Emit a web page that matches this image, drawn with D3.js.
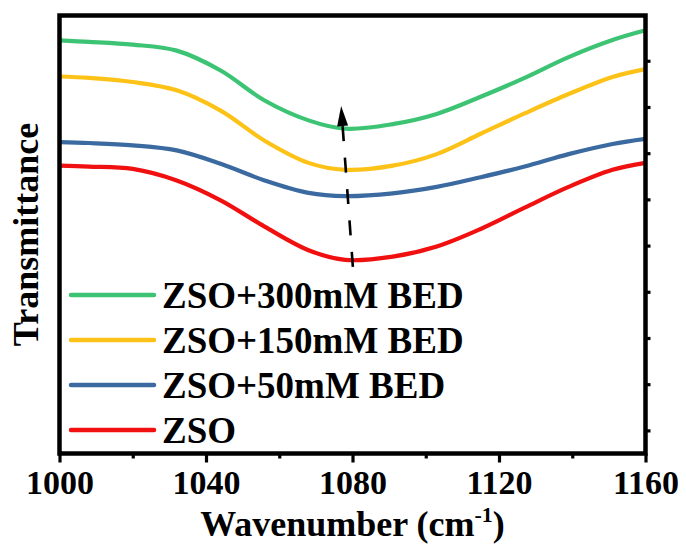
<!DOCTYPE html>
<html>
<head>
<meta charset="utf-8">
<script src="https://cdn.jsdelivr.net/npm/d3@7"></script>
<style>
  html, body { margin: 0; padding: 0; background: #fff; }
  svg { display: block; }
</style>
</head>
<body>
<svg id="chart" width="686" height="551"></svg>
<script>
// ---- data ----
const wavenumbers = [1000, 1008, 1020, 1032, 1044, 1056, 1068, 1078, 1091, 1103, 1115, 1127, 1139, 1151, 1160];
const zso300 = [8.44, 8.41, 8.35, 8.22, 7.79, 7.14, 6.71, 6.53, 6.63, 6.85, 7.22, 7.63, 8.08, 8.45, 8.66];
const zso150 = [7.66, 7.63, 7.54, 7.36, 6.92, 6.27, 5.79, 5.64, 5.73, 5.98, 6.42, 6.86, 7.28, 7.65, 7.82];
const zso50  = [6.24, 6.22, 6.17, 6.06, 5.77, 5.41, 5.14, 5.07, 5.13, 5.27, 5.48, 5.71, 5.98, 6.20, 6.31];
const zso    = [5.73, 5.71, 5.66, 5.41, 4.98, 4.41, 3.90, 3.69, 3.76, 3.98, 4.36, 4.82, 5.27, 5.64, 5.79];
const seriesNames = ["ZSO+300mM BED", "ZSO+150mM BED", "ZSO+50mM BED", "ZSO"];
const seriesColors = ["#3cc373", "#fdc218", "#3a6aa0", "#f01010"];
const xTicks = [1000, 1040, 1080, 1120, 1160];
const xMinorTicks = [1020, 1060, 1100, 1140];
const yTicks = [0, 1, 2, 3, 4, 5, 6, 7, 8];
// shift-arrow endpoints [wavenumber, value]
const arrowStart = [1080.1, 3.54];
const arrowEnd = [1076.9, 7.02];

const seriesValues = [zso300, zso150, zso50, zso];
const FONT = "Liberation Serif";

// ---- layout ----
const svg = d3.select("#chart");
const pL = 59.5, pR = 645.5, pT = 15.5, pB = 453.5;

const x = d3.scaleLinear().domain([1000, 1160]).range([pL, pR]);
const y = d3.scaleLinear().domain([-0.5, 8.98]).range([pB, pT]);

// clip
svg.append("clipPath").attr("id", "clip")
  .append("rect").attr("x", pL).attr("y", pT).attr("width", pR - pL).attr("height", pB - pT);

// curves
const line = d3.line().x(d => x(d[0])).y(d => y(d[1])).curve(d3.curveCatmullRom.alpha(0.5));
const gLines = svg.append("g").attr("clip-path", "url(#clip)");
seriesValues.forEach((vals, i) => {
  gLines.append("path")
    .datum(wavenumbers.map((w, j) => [w, vals[j]]))
    .attr("d", line)
    .attr("fill", "none")
    .attr("stroke", seriesColors[i])
    .attr("stroke-width", 4.2);
});

// arrow
const ax0 = x(arrowStart[0]), ay0 = y(arrowStart[1]);
const ax1 = x(arrowEnd[0]), ay1 = y(arrowEnd[1]);
const len = Math.hypot(ax1 - ax0, ay1 - ay0);
const ux = (ax1 - ax0) / len, uy = (ay1 - ay0) / len;
const headLen = 20, headW = 5.5;
const bx = ax1 - ux * headLen, by = ay1 - uy * headLen;
svg.append("line")
  .attr("x1", ax0).attr("y1", ay0).attr("x2", bx + ux * 2).attr("y2", by + uy * 2)
  .attr("stroke", "#000").attr("stroke-width", 2.6)
  .attr("stroke-dasharray", "15,16.5");
svg.append("path")
  .attr("d", `M${ax1},${ay1} L${bx - uy * headW},${by + ux * headW} L${bx + uy * headW},${by - ux * headW} Z`)
  .attr("fill", "#000");

// frame
svg.append("rect")
  .attr("x", pL).attr("y", pT).attr("width", pR - pL).attr("height", pB - pT)
  .attr("fill", "none").attr("stroke", "#000").attr("stroke-width", 4.5);

// bottom axis
const gx = svg.append("g").attr("transform", `translate(0,${pB})`)
  .call(d3.axisBottom(x).tickValues(xTicks).tickSize(9).tickSizeOuter(0).tickPadding(10).tickFormat(d3.format("d")));
gx.attr("font-family", FONT).attr("font-size", 34).attr("font-weight", "bold");
gx.select(".domain").remove();
gx.selectAll(".tick line").attr("stroke", "#000").attr("stroke-width", 3.2);
gx.selectAll(".tick text").attr("fill", "#000").attr("dy", "0.64em");

const gxm = svg.append("g").attr("transform", `translate(0,${pB})`)
  .call(d3.axisBottom(x).tickValues(xMinorTicks).tickSize(5).tickSizeOuter(0).tickFormat(""));
gxm.select(".domain").remove();
gxm.selectAll(".tick line").attr("stroke", "#000").attr("stroke-width", 3.2);

// right axis (ticks only)
const gy = svg.append("g").attr("transform", `translate(${pR},0)`)
  .call(d3.axisRight(y).tickValues(yTicks).tickSize(5).tickSizeOuter(0).tickFormat(""));
gy.select(".domain").remove();
gy.selectAll(".tick line").attr("stroke", "#000").attr("stroke-width", 3.2);

// axis titles
const xt = svg.append("text")
  .attr("x", (pL + pR) / 2).attr("y", 536)
  .attr("text-anchor", "middle")
  .attr("font-family", FONT).attr("font-weight", "bold").attr("font-size", 36);
xt.append("tspan").text("Wavenumber (cm");
xt.append("tspan").text("-1").attr("font-size", 22).attr("dy", -14);
xt.append("tspan").text(")").attr("dy", 14);

svg.append("text")
  .attr("transform", `translate(38,${(pT + pB) / 2}) rotate(-90)`)
  .attr("text-anchor", "middle")
  .attr("font-family", FONT).attr("font-weight", "bold").attr("font-size", 36)
  .text("Transmittance");

// legend
const legendY0 = 295, legendStep = 45;
seriesNames.forEach((name, i) => {
  const ly = legendY0 + i * legendStep;
  svg.append("line")
    .attr("x1", 71).attr("x2", 154).attr("y1", ly).attr("y2", ly)
    .attr("stroke", seriesColors[i]).attr("stroke-width", 4.5).attr("stroke-linecap", "round");
  svg.append("text")
    .attr("x", 162).attr("y", ly + 12.5)
    .attr("font-family", FONT).attr("font-weight", "bold").attr("font-size", 37)
    .text(name);
});
</script>
</body>
</html>
